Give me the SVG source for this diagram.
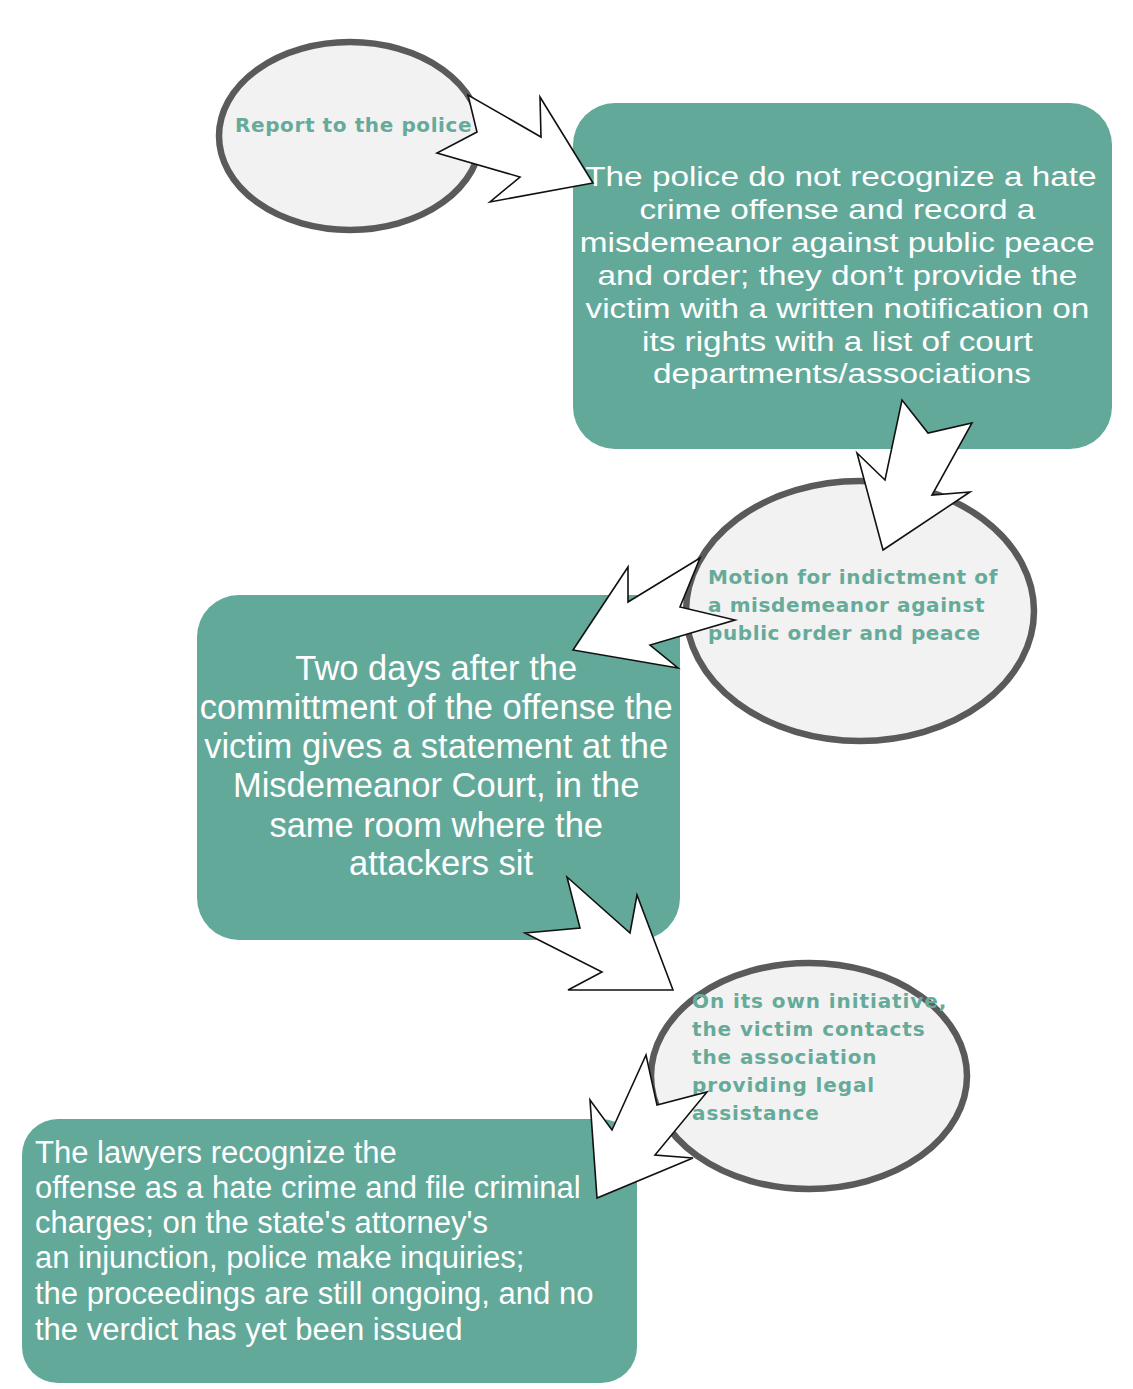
<svg xmlns="http://www.w3.org/2000/svg" width="1133" height="1389" viewBox="0 0 1133 1389">
<style>
.box{fill:#63a99a;}
.oval{fill:#f2f2f2;stroke:#5a5a5a;stroke-width:6.5;}
.bt{fill:#ffffff;font-family:"Liberation Sans",Arial,sans-serif;}
.et{fill:#66aa9a;font-family:"DejaVu Sans",Verdana,sans-serif;font-weight:bold;font-size:20px;letter-spacing:0.6px;}
.arr{fill:#ffffff;stroke:#111111;stroke-width:1.6;stroke-linejoin:miter;}
</style>
<rect width="1133" height="1389" fill="#ffffff"/>
<g id="node-report">
<ellipse class="oval" cx="350" cy="136" rx="131" ry="94"/>
<text class="et" x="235" y="132">Report to the police</text>
</g>
<g id="node-police">
<rect class="box" x="573" y="103" width="539" height="346" rx="42"/>
<text class="bt" font-size="28.5" text-anchor="middle" transform="translate(842,0) scale(1.17,1)">
<tspan x="3" y="186">The police do not recognize a hate</tspan>
<tspan x="0" y="219">crime offense and record a</tspan>
<tspan x="0" y="252">misdemeanor against public peace</tspan>
<tspan x="0" y="285">and order; they don’t provide the</tspan>
<tspan x="0" y="318">victim with a written notification on</tspan>
<tspan x="0" y="351">its rights with a list of court</tspan>
<tspan x="0" y="383">departments/associations</tspan>
</text>
</g>
<g id="node-motion">
<ellipse class="oval" cx="860" cy="611" rx="174" ry="130"/>
<text class="et">
<tspan x="708" y="584">Motion for indictment of</tspan>
<tspan x="708" y="612">a misdemeanor against</tspan>
<tspan x="708" y="640">public order and peace</tspan>
</text>
</g>
<g id="node-statement">
<rect class="box" x="197" y="595" width="483" height="345" rx="42"/>
<text class="bt" font-size="34.5" text-anchor="middle">
<tspan x="441" y="680">Two days after the</tspan>
<tspan x="441" y="719">committment of the offense the</tspan>
<tspan x="441" y="758">victim gives a statement at the</tspan>
<tspan x="441" y="797">Misdemeanor Court, in the</tspan>
<tspan x="441" y="837">same room where the</tspan>
<tspan x="441" y="875">attackers sit</tspan>
</text>
</g>
<g id="node-contact">
<ellipse class="oval" cx="809" cy="1076" rx="158" ry="113"/>
<text class="et" style="letter-spacing:0.9px">
<tspan x="692" y="1008">On its own initiative,</tspan>
<tspan x="692" y="1036">the victim contacts</tspan>
<tspan x="692" y="1064">the association</tspan>
<tspan x="692" y="1092">providing legal</tspan>
<tspan x="692" y="1120">assistance</tspan>
</text>
</g>
<g id="node-lawyers">
<rect class="box" x="22" y="1119" width="615" height="264" rx="36"/>
<text class="bt" font-size="31">
<tspan x="35" y="1163">The lawyers recognize the</tspan>
<tspan x="35" y="1198">offense as a hate crime and file criminal</tspan>
<tspan x="35" y="1233">charges; on the state's attorney's</tspan>
<tspan x="35" y="1268">an injunction, police make inquiries;</tspan>
<tspan x="35" y="1304">the proceedings are still ongoing, and no</tspan>
<tspan x="35" y="1340">the verdict has yet been issued</tspan>
</text>
</g>
<g id="connectors">
<polygon class="arr" points="593,183 540,97 541,137 468,95 477,132 437,153 520,177 490,202"/>
<polygon class="arr" points="883,550 970,492 932,495 972,423 928,433 902,400 885,480 857,453"/>
<polygon class="arr" points="573,650 628,567 628,602 700,558 680,607 735,620 650,645 678,668"/>
<polygon class="arr" points="673,990 637,895 630,933 567,877 580,928 525,933 602,972 568,990"/>
<polygon class="arr" points="597,1198 590,1100 612,1130 646,1055 657,1105 707,1092 655,1155 693,1158"/>
</g>
</svg>
